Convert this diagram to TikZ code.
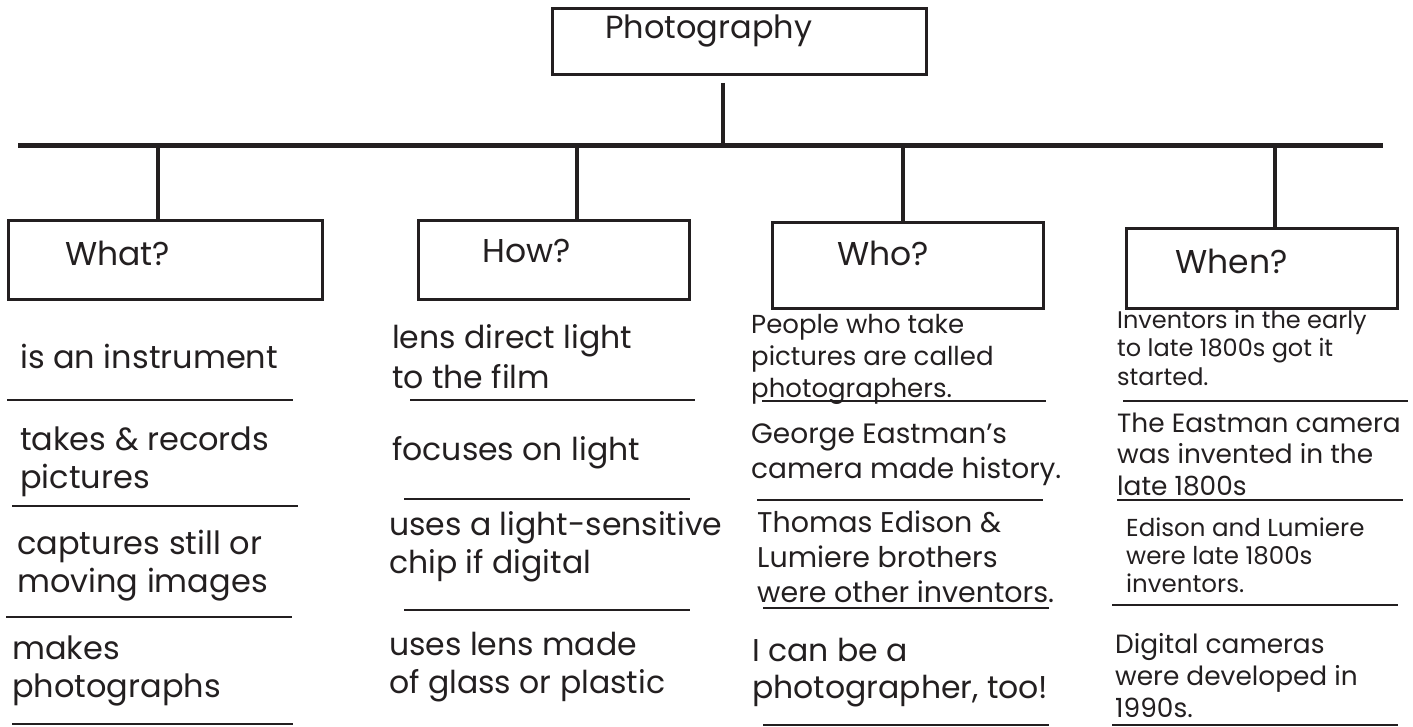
\documentclass[tikz,border=0pt]{standalone}
\usepackage{fontspec}
\setmainfont{Poppins}
\definecolor{ink}{HTML}{231F20}
\begin{document}
\begin{tikzpicture}[x=1pt,y=-1pt,
  box/.style={draw=ink,line width=3pt,inner sep=0pt,anchor=north west},
  conn/.style={draw=ink,line width=4pt},
  bar/.style={draw=ink,line width=5.5pt},
  rule/.style={draw=ink,line width=2.8pt},
  lbl/.style={text=ink,inner sep=0pt,anchor=base west,align=left},
  head/.style={font=\fontsize{33}{38}\selectfont},
  big/.style={font=\fontsize{32}{38}\selectfont}
]
\useasboundingbox (0,0) rectangle (1413,727);
% top
\node[box,minimum width=374pt,minimum height=66pt] (top) at (551,7) {};
\node[lbl,font=\fontsize{32}{38}\selectfont] (topL) at (605,39) {Photography};
\coordinate (barL) at (18,145.5);
\coordinate (barR) at (1383,145.5);
\coordinate (jTop) at (723,145.5);
\coordinate (jWhat) at (158,145.5);
\coordinate (jHow) at (577,145.5);
\coordinate (jWho) at (903,145.5);
\coordinate (jWhen) at (1275,148);
\draw[bar] (barL) -- (barR);
\draw[conn] (top.south -| jTop) ++(0,7) -- (jTop);
% category boxes
\node[box,minimum width=314pt,minimum height=79pt] (what) at (7,219) {};
\node[box,minimum width=271pt,minimum height=79pt] (how) at (417,219) {};
\node[box,minimum width=271pt,minimum height=86pt] (who) at (771,221) {};
\node[box,minimum width=271pt,minimum height=80pt] (when) at (1125,227) {};
\node[lbl,head] (whatL) at (65,266) {What?};
\node[lbl,head] (howL) at (482,262) {How?};
\node[lbl,head] (whoL) at (837,266) {Who?};
\node[lbl,head] (whenL) at (1175,273) {When?};
\draw[conn] (jWhat) -- ([yshift=-2pt]what.north -| jWhat);
\draw[conn] (jHow) -- ([yshift=-2pt]how.north -| jHow);
\draw[conn] (jWho) -- ([yshift=-3pt]who.north -| jWho);
\draw[conn] (jWhen) -- ([yshift=-3pt]when.north -| jWhen);
% What column
\node[lbl,big] (w1) at (20,368) {is an instrument};
\draw[rule] (7,400) -- (293,400);
\node[lbl,big] (w2) at (20,488) {takes \& records\\pictures};
\draw[rule] (12,506) -- (298,506);
\node[lbl,big] (w3) at (17,592) {captures still or\\moving images};
\draw[rule] (6,617) -- (292,617);
\node[lbl,big] (w4) at (12,697) {makes\\photographs};
\draw[rule] (12,724) -- (293,724);
% How column
\node[lbl,font=\fontsize{31.5}{40}\selectfont] (h1) at (392,388) {lens direct light\\to the film};
\draw[rule] (410,400) -- (695,400);
\node[lbl,font=\fontsize{31.5}{40}\selectfont] (h2) at (392,460) {focuses on light};
\draw[rule] (404,499) -- (690,499);
\node[lbl,font=\fontsize{31.5}{38}\selectfont] (h3) at (389,573) {uses a light-sensitive\\chip if digital};
\draw[rule] (404,610) -- (690,610);
\node[lbl,font=\fontsize{31.5}{38}\selectfont] (h4) at (389,693) {uses lens made\\of glass or plastic};
% Who column
\node[lbl,font=\fontsize{26}{32}\selectfont] (o1) at (751,397) {People who take\\pictures are called\\photographers.};
\draw[rule] (762,401) -- (1046,401);
\node[lbl,font=\fontsize{28}{35}\selectfont] (o2) at (751,478) {George Eastman’s\\camera made history.};
\draw[rule] (757,500) -- (1043,500);
\node[lbl,font=\fontsize{28.5}{35}\selectfont] (o3) at (757,602) {Thomas Edison \&\\Lumiere brothers\\were other inventors.};
\draw[rule] (763,608) -- (1049,608);
\node[lbl,font=\fontsize{31.5}{37}\selectfont] (o4) at (752,698) {I can be a\\photographer, too!};
\draw[rule] (763,725) -- (1049,725);
% When column
\node[lbl,font=\fontsize{24}{28.5}\selectfont] (n1) at (1117,385) {Inventors in the early\\to late 1800s got it\\started.};
\draw[rule] (1123,401) -- (1408,401);
\node[lbl,font=\fontsize{26.4}{31.5}\selectfont] (n2) at (1117,495) {The Eastman camera\\was invented in the\\late 1800s};
\draw[rule] (1117,500) -- (1403,500);
\node[lbl,font=\fontsize{24.5}{28}\selectfont] (n3) at (1126,592) {Edison and Lumiere\\were late 1800s\\inventors.};
\draw[rule] (1112,605) -- (1398,605);
\node[lbl,font=\fontsize{26.4}{32}\selectfont] (n4) at (1115,717) {Digital cameras\\were developed in\\1990s.};
\draw[rule] (1112,725) -- (1398,725);
\end{tikzpicture}
\end{document}
